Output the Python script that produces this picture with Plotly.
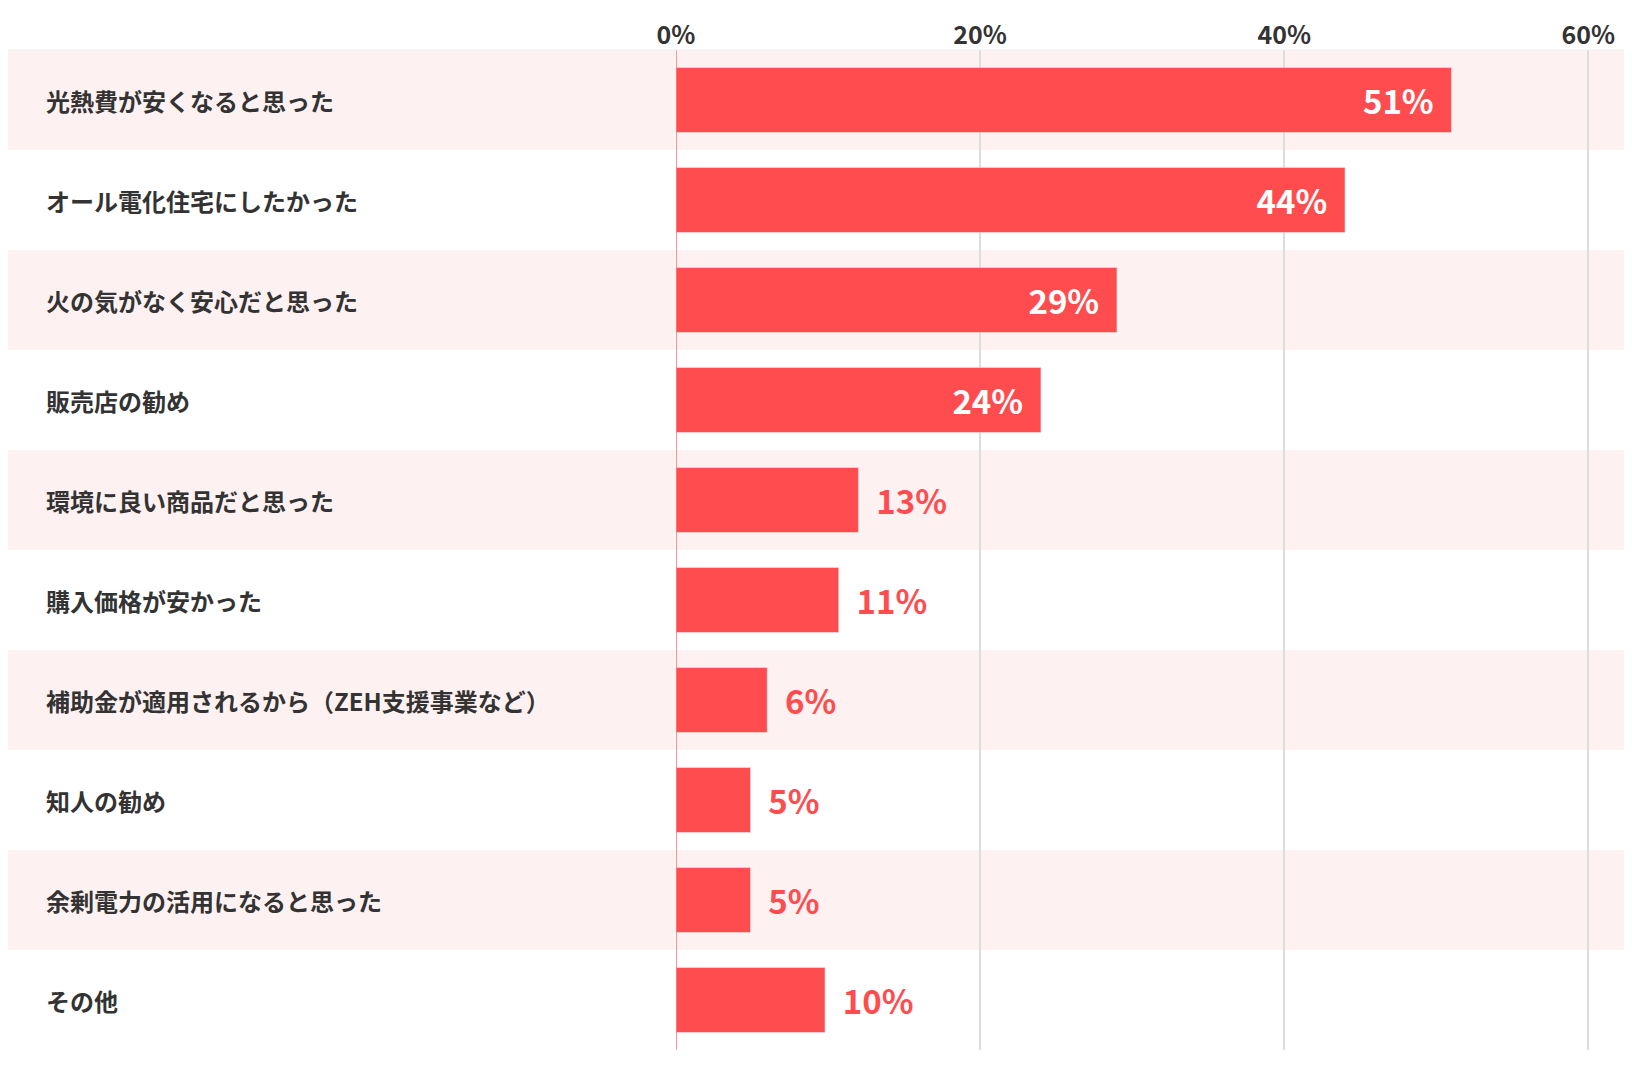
import plotly.graph_objects as go

categories = ["光熱費が安くなると思った","オール電化住宅にしたかった","火の気がなく安心だと思った","販売店の勧め",
              "環境に良い商品だと思った","購入価格が安かった","補助金が適用されるから（ZEH支援事業など）",
              "知人の勧め","余剰電力の活用になると思った","その他"]
values = [51, 44, 29, 24, 12, 10.7, 6, 4.9, 4.9, 9.8]
labels = ["51%","44%","29%","24%","13%","11%","6%","5%","5%","10%"]
tickvals = [0, 20, 40, 60]
ticktext = ["0%","20%","40%","60%"]

W, H = 1632, 1082
L, R, T, B = 668, 0, 42, 40
pw = W - L - R
xmax = 63.4
red = "#FF4D4F"
font = "Noto Sans CJK JP"

ys = list(range(len(categories)))
pos = ["inside" if v >= 20 else "outside" for v in values]
colors = ["white" if v >= 20 else red for v in values]
texts = [f"<b>{t}</b>  " if v >= 20 else f"  <b>{t}</b>" for t, v in zip(labels, values)]

fig = go.Figure(go.Bar(
    x=values, y=ys, orientation="h", marker_color=red, width=0.65,
    text=texts, textposition=pos, insidetextanchor="end",
    textfont=dict(family=font, size=33, color=colors), cliponaxis=False,
))
shapes = []
for i in ys:
    if i % 2 == 0:
        shapes.append(dict(type="rect", xref="paper", yref="y", x0=-L/pw - 0.02, x1=1.02,
                           y0=i-0.5, y1=i+0.5, fillcolor="#FEF1F1", line_width=0, layer="below"))
shapes.append(dict(type="line", xref="x", yref="paper", x0=0, x1=0, y0=0, y1=1,
                   line=dict(color="#F07A7C", width=1.5)))
anns = [dict(text=f"<b>{c}</b>", xref="paper", yref="y", x=-(L-36)/pw, y=i, xanchor="left", showarrow=False,
             font=dict(family=font, size=24, color="#333333")) for i, c in enumerate(categories)]
fig.update_layout(
    width=W, height=H, margin=dict(l=L, r=R, t=T, b=B),
    plot_bgcolor="white", paper_bgcolor="white", showlegend=False,
    shapes=shapes, annotations=anns,
    xaxis=dict(range=[0, xmax], side="top", tickvals=tickvals,
               ticktext=[f"<b>{t}</b>" for t in ticktext],
               showgrid=True, gridcolor="#DDDDDD", gridwidth=1.5, zeroline=False,
               tickfont=dict(family=font, size=25, color="#333333")),
    yaxis=dict(range=[len(categories)-0.5, -0.5], showticklabels=False, showgrid=False, zeroline=False),
)
fig.add_shape(type="line", xref="paper", yref="paper", x0=-L/pw - 0.02, x1=1.02, y0=1, y1=1,
              line=dict(color="#EEEEEE", width=1))
fig.write_html("out.html")
